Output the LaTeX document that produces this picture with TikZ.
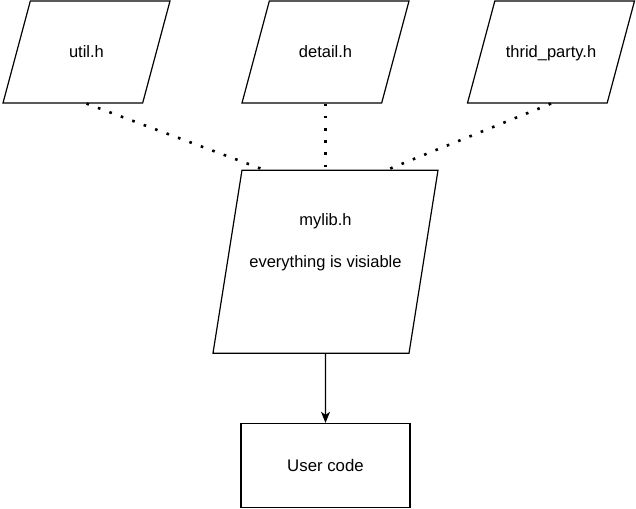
\documentclass[tikz,border=0pt]{standalone}
\usepackage{fontspec}
\setmainfont{Liberation Sans}
\usetikzlibrary{positioning,shapes.geometric,arrows.meta}

\begin{document}
\begin{tikzpicture}[x=1pt, y=-1pt,
    hdr/.style={trapezium, trapezium left angle=75, trapezium right angle=105,
                trapezium stretches body=true, draw, line width=1.2pt,
                minimum width=167pt, inner sep=0pt,
                text height=57pt, text depth=45pt,
                font=\fontsize{16.5}{20}\selectfont, align=center},
    lib/.style={hdr, trapezium left angle=81, trapezium right angle=99,
                minimum width=225pt, text height=97pt, text depth=86pt},
    usr/.style={rectangle, draw, line width=1.2pt,
                minimum width=169pt, minimum height=84pt,
                font=\fontsize{16.8}{20}\selectfont},
    dots/.style={line width=2.6pt, dash pattern=on 2.6pt off 9.6pt},
    arr/.style={-{Stealth[length=11pt, width=9pt, inset=3pt]}, line width=1.2pt}
  ]
    \useasboundingbox (0,0) rectangle (636,508);
    % header files
    \node[hdr] (util)   at (86.5,52) {util.h};
    \node[hdr] (detail) at (325.5,52) {detail.h};
    \node[hdr] (third)  at (551,52) {thrid\_party.h};
    % umbrella header
    \node[lib, below=66pt of detail] (mylib)
          {mylib.h\\[21.6pt]everything is visiable};
    \node[usr, below=69pt of mylib] (user) {User code};
    \draw[dots] (util.south) -- ([xshift=-62pt]mylib.north);
    \draw[dots] (detail.south) -- (mylib.north);
    \draw[dots] (third.south) -- ([xshift=62pt]mylib.north);
    \draw[arr] (mylib) -- (user);
\end{tikzpicture}
\end{document}
